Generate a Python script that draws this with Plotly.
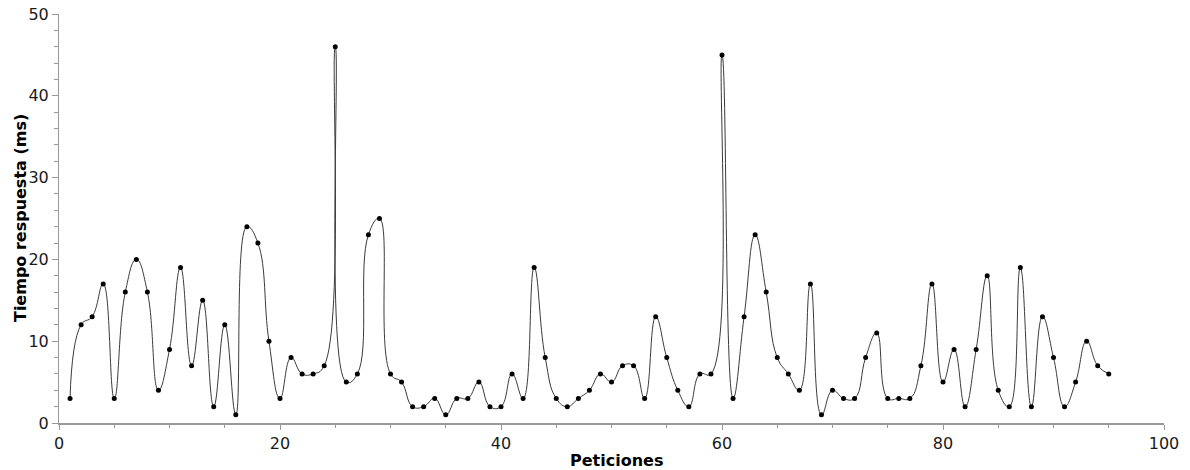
import plotly.graph_objects as go

peticiones = list(range(1, 96))
tiempo_ms = [3, 12, 13, 17, 3, 16, 20, 16, 4, 9,
             19, 7, 15, 2, 12, 1, 24, 22, 10, 3,
             8, 6, 6, 7, 46, 5, 6, 23, 25, 6,
             5, 2, 2, 3, 1, 3, 3, 5, 2, 2,
             6, 3, 19, 8, 3, 2, 3, 4, 6, 5,
             7, 7, 3, 13, 8, 4, 2, 6, 6, 45,
             3, 13, 23, 16, 8, 6, 4, 17, 1, 4,
             3, 3, 8, 11, 3, 3, 3, 7, 17, 5,
             9, 2, 9, 18, 4, 2, 19, 2, 13, 8,
             2, 5, 10, 7, 6]

x_title = "Peticiones"
y_title = "Tiempo respuesta (ms)"

fig = go.Figure()
fig.add_trace(go.Scatter(
    x=peticiones, y=tiempo_ms, mode="lines",
    line=dict(shape="spline", smoothing=1.3, color="#3a3a3a", width=1),
    hoverinfo="skip", showlegend=False,
))
fig.add_trace(go.Scatter(
    x=peticiones, y=tiempo_ms, mode="markers",
    marker=dict(color="black", size=5),
    showlegend=False,
))

axis_font = dict(family="DejaVu Sans", size=16, color="#1a1a1a")
title_font = dict(family="DejaVu Sans", size=16, color="black")

# page offset of 8px (default body margin) is accounted for in the figure size
W, H = 1182, 462
L, T = 50.5, 6
PW, PH = 1105.8, 408.7

fig.update_layout(
    width=W, height=H,
    margin=dict(l=L, r=W - L - PW, t=T, b=H - T - PH, autoexpand=False),
    paper_bgcolor="white", plot_bgcolor="white",
    xaxis=dict(
        range=[0, 100], tickmode="linear", tick0=0, dtick=20,
        showgrid=False, zeroline=False,
        showline=True, linecolor="#999999", linewidth=2,
        ticks="outside", ticklen=5, tickcolor="#999999", tickwidth=1,
        tickfont=axis_font, ticklabeloverflow="allow",
        minor=dict(dtick=5, ticks="outside", ticklen=3, tickcolor="#999999", showgrid=False),
        automargin=False,
    ),
    yaxis=dict(
        range=[0, 50], tickmode="linear", tick0=0, dtick=10,
        showgrid=False, zeroline=False,
        showline=True, linecolor="#999999", linewidth=1,
        ticks="outside", ticklen=6, tickcolor="#999999", tickwidth=1,
        tickfont=axis_font, ticklabeloverflow="allow",
        minor=dict(dtick=2, ticks="outside", ticklen=4, tickcolor="#999999", showgrid=False),
        automargin=False,
    ),
    annotations=[
        dict(text="<b>" + x_title + "</b>", font=title_font, showarrow=False,
             xref="paper", yref="paper", x=(616 - 58.5) / PW, y=-(449 - 422.7) / PH,
             xanchor="center", yanchor="top"),
        dict(text="<b>" + y_title + "</b>", font=title_font, showarrow=False,
             textangle=-90,
             xref="paper", yref="paper", x=(20 - 58.5) / PW, y=0.5,
             xanchor="center", yanchor="middle"),
    ],
)

fig.write_html("out.html")
